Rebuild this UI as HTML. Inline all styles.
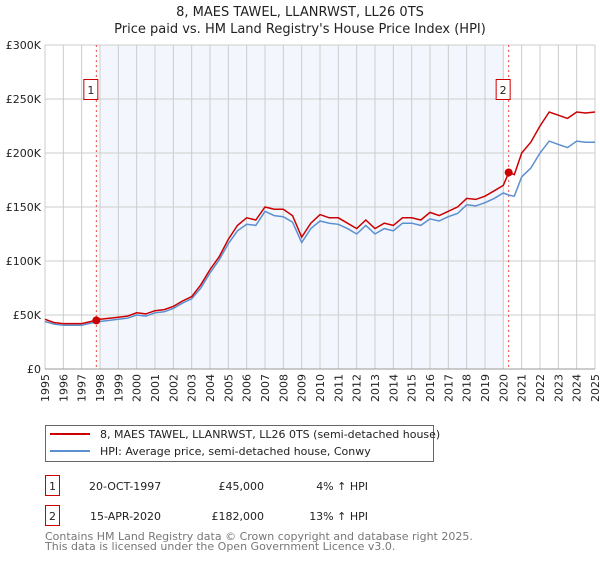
<!DOCTYPE html>
<html><head><meta charset="utf-8"><style>
body{margin:0;background:#fff;font-family:"DejaVu Sans","Liberation Sans",sans-serif;}
svg text{font-family:"DejaVu Sans","Liberation Sans",sans-serif;}
</style></head><body>
<svg width="600" height="560" viewBox="0 0 600 560" xmlns="http://www.w3.org/2000/svg">
<text x="300" y="16" text-anchor="middle" font-size="13" fill="#222">8, MAES TAWEL, LLANRWST, LL26 0TS</text>
<text x="300" y="33" text-anchor="middle" font-size="13" fill="#222">Price paid vs. HM Land Registry's House Price Index (HPI)</text>
<g id="plot"></g>
<g>
<rect x="45.5" y="425.5" width="388" height="36" fill="#fff" stroke="#666"/>
<line x1="50" y1="434" x2="90" y2="434" stroke="#cc0000" stroke-width="2"/>
<text x="100" y="438" font-size="11" fill="#222">8, MAES TAWEL, LLANRWST, LL26 0TS (semi-detached house)</text>
<line x1="50" y1="451" x2="90" y2="451" stroke="#5b8fd0" stroke-width="2"/>
<text x="100" y="455" font-size="11" fill="#222">HPI: Average price, semi-detached house, Conwy</text>
</g>
<g font-size="11" fill="#222">
<rect x="45.5" y="475.5" width="14" height="20" fill="#fff" stroke="#cc0000"/>
<text x="52.5" y="490" text-anchor="middle">1</text>
<text x="89" y="490">20-OCT-1997</text>
<text x="264" y="490" text-anchor="end">£45,000</text>
<text x="368" y="490" text-anchor="end">4% ↑ HPI</text>
<rect x="45.5" y="505.5" width="14" height="20" fill="#fff" stroke="#cc0000"/>
<text x="52.5" y="520" text-anchor="middle">2</text>
<text x="90" y="520">15-APR-2020</text>
<text x="264" y="520" text-anchor="end">£182,000</text>
<text x="368" y="520" text-anchor="end">13% ↑ HPI</text>
</g>
<text x="45" y="540" font-size="11" fill="#777">Contains HM Land Registry data © Crown copyright and database right 2025.</text>
<text x="45" y="550" font-size="11" fill="#777">This data is licensed under the Open Government Licence v3.0.</text>
</svg>
<script>
const years=[1995,1995.5,1996,1996.5,1997,1997.5,1998,1998.5,1999,1999.5,2000,2000.5,2001,2001.5,2002,2002.5,2003,2003.5,2004,2004.5,2005,2005.5,2006,2006.5,2007,2007.5,2008,2008.5,2009,2009.5,2010,2010.5,2011,2011.5,2012,2012.5,2013,2013.5,2014,2014.5,2015,2015.5,2016,2016.5,2017,2017.5,2018,2018.5,2019,2019.5,2020,2020.3,2020.6,2021,2021.5,2022,2022.5,2023,2023.5,2024,2024.5,2025];
const priceSeries=[46,43,42,42,42,44,46,47,48,49,52,51,54,55,58,63,67,78,92,104,120,133,140,138,150,148,148,142,122,135,143,140,140,135,130,138,130,135,133,140,140,138,145,142,146,150,158,157,160,165,170,182,180,200,210,225,238,235,232,238,237,238];
const hpiSeries=[44,41.5,40.5,40.5,40.5,42.5,44,45,46,47,50,49,52,53,56,61,65,75,89,101,116,128,134,133,146,142,141,136,117,130,137,135,134,130,125,133,125,130,128,135,135,133,139,137,141,144,152,151,154,158,163,161,160,178,186,200,211,208,205,211,210,210];
const yTicks=[0,50,100,150,200,250,300];
const yTickLabels=["£0","£50K","£100K","£150K","£200K","£250K","£300K"];
const sales=[{x:1997.8,y:45,label:"1"},{x:2020.29,y:182,label:"2"}];
const X0=45,X1=595,Y0=369,Y1=45;
const sx=v=>X0+(v-1995)/30*(X1-X0);
const sy=v=>Y0-v/300*(Y0-Y1);
const ns="http://www.w3.org/2000/svg";
const g=document.getElementById('plot');
function el(t,a,p){const e=document.createElementNS(ns,t);for(const k in a)e.setAttribute(k,a[k]);(p||g).appendChild(e);return e;}
const shade=el('rect',{x:sx(1998),y:Y1,width:sx(2020)-sx(1998),height:Y0-Y1,fill:'#eef3fc',opacity:0.7});


for(let yr=1995;yr<=2025;yr++){
 const l=el('line',{x1:sx(yr),x2:sx(yr),y1:Y1,y2:Y0,stroke:'#ccc','stroke-width':1});
 
 
 const t=el('text',{x:0,y:0,'font-size':11,fill:'#222','text-anchor':'end',transform:`translate(${sx(yr)+4},${Y0+5}) rotate(-90)`});
 t.textContent=yr;
 
 
}
yTicks.forEach((v,i)=>{
 const l=el('line',{x1:X0,x2:X1,y1:sy(v),y2:sy(v),stroke:'#ccc','stroke-width':1});
 
 
 const t=el('text',{x:X0-4,y:sy(v)+4,'font-size':11,fill:'#222','text-anchor':'end'});
 t.textContent=yTickLabels[i];
 
 
});
const bl=el('line',{x1:X0,x2:X1,y1:Y0,y2:Y0,stroke:'#999'});


sales.forEach(s=>{
 const l=el('line',{x1:sx(s.x),x2:sx(s.x),y1:Y1,y2:Y0,stroke:'#e44','stroke-dasharray':'2,3','stroke-width':1});
 
 
});
function path(d,c,name){
 const p=el('path',{d:d.map((v,i)=>(i?'L':'M')+sx(years[i]).toFixed(1)+','+sy(v).toFixed(1)).join(''),fill:'none',stroke:c,'stroke-width':1.5});
 
 
}
path(hpiSeries,'#5b8fd0','hpi-line');
path(priceSeries,'#cc0000','price-line');
sales.forEach(s=>{
 const c=el('circle',{cx:sx(s.x),cy:sy(s.y),r:4,fill:'#cc0000'});
 
 
 const r=el('rect',{x:sx(s.x)-12.5,y:79.5,width:14,height:20,fill:'#fff',stroke:'#cc0000'});
 
 
 const t=el('text',{x:sx(s.x)-5.5,y:94,'font-size':11,fill:'#222','text-anchor':'middle'});
 t.textContent=s.label;
 
 
});
</script>
</body></html>
